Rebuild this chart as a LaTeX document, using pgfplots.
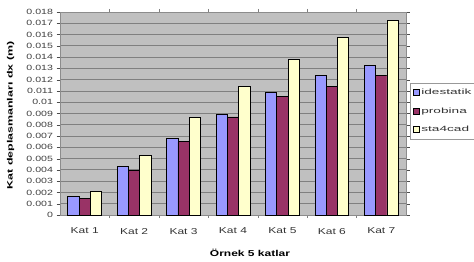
\documentclass[border=0pt]{standalone}
\usepackage{pgfplots}
\pgfplotsset{compat=1.18}
\usepackage{fontspec}
\setmainfont{Liberation Sans}
\newfontfamily\tickfont[FakeStretch=1.4]{Liberation Sans}
\newfontfamily\legfont[FakeStretch=1.8]{Liberation Sans}
\newfontfamily\ylabfont[FakeStretch=1.6]{Liberation Sans}
\definecolor{cA}{HTML}{9999FF}
\definecolor{cB}{HTML}{993366}
\definecolor{cC}{HTML}{FFFFCC}
\definecolor{bg}{HTML}{C0C0C0}
\begin{document}
\begin{tikzpicture}
\begin{axis}[
  name=ax,
  scale only axis,
  width=346bp, height=203bp,
  ybar=0pt, bar width=11.3bp,
  xmin=0.5, xmax=7.5,
  ymin=0, ymax=0.018,
  xtick={1,...,7},
  xticklabels={Kat 1,Kat 2,Kat 3,Kat 4,Kat 5,Kat 6,Kat 7},
  minor xtick={1.5,2.5,...,6.5},
  ytick={0,0.001,...,0.0185},
  scaled y ticks=false,
  /pgf/number format/assume math mode=true,
  yticklabel style={/pgf/number format/fixed,/pgf/number format/precision=3,font=\tickfont\fontsize{7.6}{8}\selectfont,text=black!75},
  xticklabel style={font=\tickfont\fontsize{8.6}{9}\selectfont,text=black!80,yshift=-6bp},
  major x tick style={draw=none},
  minor x tick style={draw=gray,line width=0.4pt},
  minor tick length=3bp,
  y tick style={draw=black!70},
  major tick length=3.5bp,
  tick align=outside,
  ymajorgrids,
  grid style={draw=black!50,line width=0.8pt},
  axis background/.style={fill=bg},
  axis line style={draw=black!45},
  xlabel={\textbf{Örnek 5 katlar}},
  ylabel={\textbf{Kat deplasmanları dx (m)}},
  xlabel style={font=\tickfont\fontsize{8.6}{9}\selectfont,at={(axis description cs:0.549,-0.187)},anchor=center},
  ylabel style={font=\ylabfont\fontsize{7.8}{8}\selectfont,at={(axis description cs:-0.143,0.49)},anchor=center,rotate=0},
  legend style={at={(axis description cs:1.0116,0.650)},anchor=north west,font=\legfont\fontsize{7.6}{8}\selectfont,draw=black!40,row sep=7.5bp,inner sep=3bp,inner ysep=4bp,text=black!80},
  legend cell align=left,
  legend image code/.code={\draw[#1,draw=black,line width=0.5pt] (0.02cm,-0.09cm) rectangle (0.22cm,0.11cm);},
  every axis plot/.append style={draw=black,line width=0.7pt},
]
\addplot[fill=cA] coordinates {(1,0.00168) (2,0.00428) (3,0.0068) (4,0.00893) (5,0.01084) (6,0.01238) (7,0.01327)};
\addplot[fill=cB] coordinates {(1,0.00148) (2,0.00399) (3,0.0065) (4,0.0087) (5,0.01049) (6,0.01137) (7,0.01241)};
\addplot[fill=cC] coordinates {(1,0.00207) (2,0.00529) (3,0.00862) (4,0.01137) (5,0.01383) (6,0.01575) (7,0.01729)};
\legend{idestatik,probina,sta4cad}
\end{axis}
\pgfresetboundingbox
\path ([xshift=-60bp,yshift=-46bp]ax.south west) rectangle ([xshift=68bp,yshift=12bp]ax.north east);
\end{tikzpicture}
\end{document}
